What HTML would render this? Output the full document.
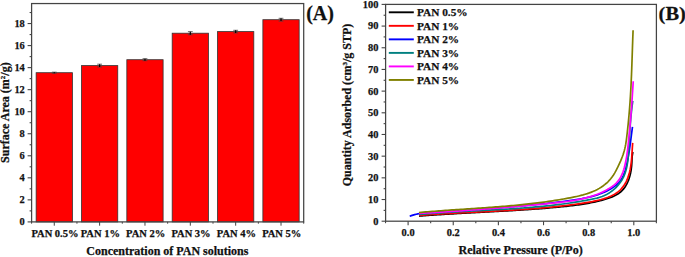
<!DOCTYPE html>
<html><head><meta charset="utf-8"><style>
html,body{margin:0;padding:0;background:#fff;}
body{width:685px;height:257px;overflow:hidden;font-family:"Liberation Serif",serif;}
svg{display:block;}
text{font-family:"Liberation Serif",serif;font-weight:bold;fill:#111;stroke:#111;stroke-width:0.25px;}
</style></head><body>
<svg width="685" height="257" viewBox="0 0 685 257">
<rect x="36.14" y="72.70" width="36.28" height="149.20" fill="#ff0000" stroke="#333" stroke-width="0.8"/>
<rect x="81.48" y="65.60" width="36.28" height="156.30" fill="#ff0000" stroke="#333" stroke-width="0.8"/>
<rect x="126.83" y="59.70" width="36.28" height="162.20" fill="#ff0000" stroke="#333" stroke-width="0.8"/>
<rect x="172.18" y="33.20" width="36.28" height="188.70" fill="#ff0000" stroke="#333" stroke-width="0.8"/>
<rect x="217.53" y="31.60" width="36.28" height="190.30" fill="#ff0000" stroke="#333" stroke-width="0.8"/>
<rect x="262.88" y="19.70" width="36.28" height="202.20" fill="#ff0000" stroke="#333" stroke-width="0.8"/>
<path d="M51.88 72.20H56.67M51.88 73.20H56.67" stroke="#444" stroke-width="0.8" fill="none"/>
<path d="M54.27 72.20V73.20" stroke="#000" stroke-width="1.2" fill="none"/>
<path d="M97.22 64.20H102.03M97.22 67.00H102.03" stroke="#444" stroke-width="0.8" fill="none"/>
<path d="M99.62 64.20V67.00" stroke="#000" stroke-width="1.2" fill="none"/>
<path d="M142.57 58.70H147.38M142.57 60.70H147.38" stroke="#444" stroke-width="0.8" fill="none"/>
<path d="M144.97 58.70V60.70" stroke="#000" stroke-width="1.2" fill="none"/>
<path d="M187.92 31.65H192.72M187.92 34.75H192.72" stroke="#444" stroke-width="0.8" fill="none"/>
<path d="M190.32 31.65V34.75" stroke="#000" stroke-width="1.2" fill="none"/>
<path d="M233.27 30.30H238.07M233.27 32.90H238.07" stroke="#444" stroke-width="0.8" fill="none"/>
<path d="M235.67 30.30V32.90" stroke="#000" stroke-width="1.2" fill="none"/>
<path d="M278.62 18.30H283.42M278.62 21.10H283.42" stroke="#444" stroke-width="0.8" fill="none"/>
<path d="M281.02 18.30V21.10" stroke="#000" stroke-width="1.2" fill="none"/>
<rect x="31.6" y="3.55" width="272.09999999999997" height="218.35" fill="none" stroke="#444" stroke-width="1.25"/>
<line x1="27.60" y1="221.90" x2="31.60" y2="221.90" stroke="#444" stroke-width="1.1"/>
<text x="24.8" y="225.30" text-anchor="end" font-size="10.4" style="font-family:'Liberation Serif',serif;font-weight:bold">0</text>
<line x1="29.60" y1="210.88" x2="31.60" y2="210.88" stroke="#444" stroke-width="1.1"/>
<line x1="27.60" y1="199.86" x2="31.60" y2="199.86" stroke="#444" stroke-width="1.1"/>
<text x="24.8" y="203.26" text-anchor="end" font-size="10.4" style="font-family:'Liberation Serif',serif;font-weight:bold">2</text>
<line x1="29.60" y1="188.84" x2="31.60" y2="188.84" stroke="#444" stroke-width="1.1"/>
<line x1="27.60" y1="177.82" x2="31.60" y2="177.82" stroke="#444" stroke-width="1.1"/>
<text x="24.8" y="181.22" text-anchor="end" font-size="10.4" style="font-family:'Liberation Serif',serif;font-weight:bold">4</text>
<line x1="29.60" y1="166.80" x2="31.60" y2="166.80" stroke="#444" stroke-width="1.1"/>
<line x1="27.60" y1="155.78" x2="31.60" y2="155.78" stroke="#444" stroke-width="1.1"/>
<text x="24.8" y="159.18" text-anchor="end" font-size="10.4" style="font-family:'Liberation Serif',serif;font-weight:bold">6</text>
<line x1="29.60" y1="144.76" x2="31.60" y2="144.76" stroke="#444" stroke-width="1.1"/>
<line x1="27.60" y1="133.74" x2="31.60" y2="133.74" stroke="#444" stroke-width="1.1"/>
<text x="24.8" y="137.14" text-anchor="end" font-size="10.4" style="font-family:'Liberation Serif',serif;font-weight:bold">8</text>
<line x1="29.60" y1="122.72" x2="31.60" y2="122.72" stroke="#444" stroke-width="1.1"/>
<line x1="27.60" y1="111.70" x2="31.60" y2="111.70" stroke="#444" stroke-width="1.1"/>
<text x="24.8" y="115.10" text-anchor="end" font-size="10.4" style="font-family:'Liberation Serif',serif;font-weight:bold">10</text>
<line x1="29.60" y1="100.68" x2="31.60" y2="100.68" stroke="#444" stroke-width="1.1"/>
<line x1="27.60" y1="89.66" x2="31.60" y2="89.66" stroke="#444" stroke-width="1.1"/>
<text x="24.8" y="93.06" text-anchor="end" font-size="10.4" style="font-family:'Liberation Serif',serif;font-weight:bold">12</text>
<line x1="29.60" y1="78.64" x2="31.60" y2="78.64" stroke="#444" stroke-width="1.1"/>
<line x1="27.60" y1="67.62" x2="31.60" y2="67.62" stroke="#444" stroke-width="1.1"/>
<text x="24.8" y="71.02" text-anchor="end" font-size="10.4" style="font-family:'Liberation Serif',serif;font-weight:bold">14</text>
<line x1="29.60" y1="56.60" x2="31.60" y2="56.60" stroke="#444" stroke-width="1.1"/>
<line x1="27.60" y1="45.58" x2="31.60" y2="45.58" stroke="#444" stroke-width="1.1"/>
<text x="24.8" y="48.98" text-anchor="end" font-size="10.4" style="font-family:'Liberation Serif',serif;font-weight:bold">16</text>
<line x1="29.60" y1="34.56" x2="31.60" y2="34.56" stroke="#444" stroke-width="1.1"/>
<line x1="27.60" y1="23.54" x2="31.60" y2="23.54" stroke="#444" stroke-width="1.1"/>
<text x="24.8" y="26.94" text-anchor="end" font-size="10.4" style="font-family:'Liberation Serif',serif;font-weight:bold">18</text>
<line x1="29.60" y1="12.52" x2="31.60" y2="12.52" stroke="#444" stroke-width="1.1"/>
<line x1="54.27" y1="221.90" x2="54.27" y2="225.70" stroke="#444" stroke-width="1.0"/>
<line x1="99.62" y1="221.90" x2="99.62" y2="225.70" stroke="#444" stroke-width="1.0"/>
<line x1="144.97" y1="221.90" x2="144.97" y2="225.70" stroke="#444" stroke-width="1.0"/>
<line x1="190.32" y1="221.90" x2="190.32" y2="225.70" stroke="#444" stroke-width="1.0"/>
<line x1="235.67" y1="221.90" x2="235.67" y2="225.70" stroke="#444" stroke-width="1.0"/>
<line x1="281.02" y1="221.90" x2="281.02" y2="225.70" stroke="#444" stroke-width="1.0"/>
<line x1="31.60" y1="221.90" x2="31.60" y2="223.70" stroke="#444" stroke-width="1"/>
<line x1="76.95" y1="221.90" x2="76.95" y2="223.70" stroke="#444" stroke-width="1"/>
<line x1="122.30" y1="221.90" x2="122.30" y2="223.70" stroke="#444" stroke-width="1"/>
<line x1="167.65" y1="221.90" x2="167.65" y2="223.70" stroke="#444" stroke-width="1"/>
<line x1="213.00" y1="221.90" x2="213.00" y2="223.70" stroke="#444" stroke-width="1"/>
<line x1="258.35" y1="221.90" x2="258.35" y2="223.70" stroke="#444" stroke-width="1"/>
<line x1="303.70" y1="221.90" x2="303.70" y2="223.70" stroke="#444" stroke-width="1"/>
<text x="54.98" y="237.1" text-anchor="middle" font-size="10.5" style="font-family:'Liberation Serif',serif;font-weight:bold">PAN 0.5%</text>
<text x="100.33" y="237.1" text-anchor="middle" font-size="10.5" style="font-family:'Liberation Serif',serif;font-weight:bold">PAN 1%</text>
<text x="145.67" y="237.1" text-anchor="middle" font-size="10.5" style="font-family:'Liberation Serif',serif;font-weight:bold">PAN 2%</text>
<text x="191.02" y="237.1" text-anchor="middle" font-size="10.5" style="font-family:'Liberation Serif',serif;font-weight:bold">PAN 3%</text>
<text x="236.37" y="237.1" text-anchor="middle" font-size="10.5" style="font-family:'Liberation Serif',serif;font-weight:bold">PAN 4%</text>
<text x="281.72" y="237.1" text-anchor="middle" font-size="10.5" style="font-family:'Liberation Serif',serif;font-weight:bold">PAN 5%</text>
<text x="167.4" y="255.4" text-anchor="middle" font-size="12" style="font-family:'Liberation Serif',serif;font-weight:bold">Concentration of PAN solutions</text>
<text transform="translate(9.4,112.6) rotate(-90)" text-anchor="middle" font-size="12" style="font-family:'Liberation Serif',serif;font-weight:bold">Surface Area (m<tspan font-size="7" dy="-4">2</tspan><tspan dy="4">/g)</tspan></text>
<text x="306.2" y="19.7" font-size="20" style="font-family:'Liberation Serif',serif;font-weight:bold">(A)</text>
<rect x="385.6" y="4.4" width="270.79999999999995" height="216.79999999999998" fill="none" stroke="#444" stroke-width="1.25"/>
<line x1="381.60" y1="221.20" x2="385.60" y2="221.20" stroke="#444" stroke-width="1.1"/>
<text x="378.4" y="224.60" text-anchor="end" font-size="10.4" style="font-family:'Liberation Serif',serif;font-weight:bold">0</text>
<line x1="383.60" y1="210.36" x2="385.60" y2="210.36" stroke="#444" stroke-width="1.1"/>
<line x1="381.60" y1="199.52" x2="385.60" y2="199.52" stroke="#444" stroke-width="1.1"/>
<text x="378.4" y="202.92" text-anchor="end" font-size="10.4" style="font-family:'Liberation Serif',serif;font-weight:bold">10</text>
<line x1="383.60" y1="188.68" x2="385.60" y2="188.68" stroke="#444" stroke-width="1.1"/>
<line x1="381.60" y1="177.84" x2="385.60" y2="177.84" stroke="#444" stroke-width="1.1"/>
<text x="378.4" y="181.24" text-anchor="end" font-size="10.4" style="font-family:'Liberation Serif',serif;font-weight:bold">20</text>
<line x1="383.60" y1="167.00" x2="385.60" y2="167.00" stroke="#444" stroke-width="1.1"/>
<line x1="381.60" y1="156.16" x2="385.60" y2="156.16" stroke="#444" stroke-width="1.1"/>
<text x="378.4" y="159.56" text-anchor="end" font-size="10.4" style="font-family:'Liberation Serif',serif;font-weight:bold">30</text>
<line x1="383.60" y1="145.32" x2="385.60" y2="145.32" stroke="#444" stroke-width="1.1"/>
<line x1="381.60" y1="134.48" x2="385.60" y2="134.48" stroke="#444" stroke-width="1.1"/>
<text x="378.4" y="137.88" text-anchor="end" font-size="10.4" style="font-family:'Liberation Serif',serif;font-weight:bold">40</text>
<line x1="383.60" y1="123.64" x2="385.60" y2="123.64" stroke="#444" stroke-width="1.1"/>
<line x1="381.60" y1="112.80" x2="385.60" y2="112.80" stroke="#444" stroke-width="1.1"/>
<text x="378.4" y="116.20" text-anchor="end" font-size="10.4" style="font-family:'Liberation Serif',serif;font-weight:bold">50</text>
<line x1="383.60" y1="101.96" x2="385.60" y2="101.96" stroke="#444" stroke-width="1.1"/>
<line x1="381.60" y1="91.12" x2="385.60" y2="91.12" stroke="#444" stroke-width="1.1"/>
<text x="378.4" y="94.52" text-anchor="end" font-size="10.4" style="font-family:'Liberation Serif',serif;font-weight:bold">60</text>
<line x1="383.60" y1="80.28" x2="385.60" y2="80.28" stroke="#444" stroke-width="1.1"/>
<line x1="381.60" y1="69.44" x2="385.60" y2="69.44" stroke="#444" stroke-width="1.1"/>
<text x="378.4" y="72.84" text-anchor="end" font-size="10.4" style="font-family:'Liberation Serif',serif;font-weight:bold">70</text>
<line x1="383.60" y1="58.60" x2="385.60" y2="58.60" stroke="#444" stroke-width="1.1"/>
<line x1="381.60" y1="47.76" x2="385.60" y2="47.76" stroke="#444" stroke-width="1.1"/>
<text x="378.4" y="51.16" text-anchor="end" font-size="10.4" style="font-family:'Liberation Serif',serif;font-weight:bold">80</text>
<line x1="383.60" y1="36.92" x2="385.60" y2="36.92" stroke="#444" stroke-width="1.1"/>
<line x1="381.60" y1="26.08" x2="385.60" y2="26.08" stroke="#444" stroke-width="1.1"/>
<text x="378.4" y="29.48" text-anchor="end" font-size="10.4" style="font-family:'Liberation Serif',serif;font-weight:bold">90</text>
<line x1="383.60" y1="15.24" x2="385.60" y2="15.24" stroke="#444" stroke-width="1.1"/>
<line x1="381.60" y1="4.40" x2="385.60" y2="4.40" stroke="#444" stroke-width="1.1"/>
<text x="378.4" y="7.80" text-anchor="end" font-size="10.4" style="font-family:'Liberation Serif',serif;font-weight:bold">100</text>
<line x1="385.53" y1="221.20" x2="385.53" y2="223.20" stroke="#444" stroke-width="1.1"/>
<line x1="408.10" y1="221.20" x2="408.10" y2="225.20" stroke="#444" stroke-width="1.1"/>
<text x="408.10" y="235.8" text-anchor="middle" font-size="10.4" style="font-family:'Liberation Serif',serif;font-weight:bold">0.0</text>
<line x1="430.67" y1="221.20" x2="430.67" y2="223.20" stroke="#444" stroke-width="1.1"/>
<line x1="453.24" y1="221.20" x2="453.24" y2="225.20" stroke="#444" stroke-width="1.1"/>
<text x="453.24" y="235.8" text-anchor="middle" font-size="10.4" style="font-family:'Liberation Serif',serif;font-weight:bold">0.2</text>
<line x1="475.81" y1="221.20" x2="475.81" y2="223.20" stroke="#444" stroke-width="1.1"/>
<line x1="498.38" y1="221.20" x2="498.38" y2="225.20" stroke="#444" stroke-width="1.1"/>
<text x="498.38" y="235.8" text-anchor="middle" font-size="10.4" style="font-family:'Liberation Serif',serif;font-weight:bold">0.4</text>
<line x1="520.95" y1="221.20" x2="520.95" y2="223.20" stroke="#444" stroke-width="1.1"/>
<line x1="543.52" y1="221.20" x2="543.52" y2="225.20" stroke="#444" stroke-width="1.1"/>
<text x="543.52" y="235.8" text-anchor="middle" font-size="10.4" style="font-family:'Liberation Serif',serif;font-weight:bold">0.6</text>
<line x1="566.09" y1="221.20" x2="566.09" y2="223.20" stroke="#444" stroke-width="1.1"/>
<line x1="588.66" y1="221.20" x2="588.66" y2="225.20" stroke="#444" stroke-width="1.1"/>
<text x="588.66" y="235.8" text-anchor="middle" font-size="10.4" style="font-family:'Liberation Serif',serif;font-weight:bold">0.8</text>
<line x1="611.23" y1="221.20" x2="611.23" y2="223.20" stroke="#444" stroke-width="1.1"/>
<line x1="633.80" y1="221.20" x2="633.80" y2="225.20" stroke="#444" stroke-width="1.1"/>
<text x="633.80" y="235.8" text-anchor="middle" font-size="10.4" style="font-family:'Liberation Serif',serif;font-weight:bold">1.0</text>
<line x1="656.37" y1="221.20" x2="656.37" y2="223.20" stroke="#444" stroke-width="1.1"/>
<text x="520.6" y="254.3" text-anchor="middle" font-size="12" style="font-family:'Liberation Serif',serif;font-weight:bold">Relative Pressure (P/Po)</text>
<text transform="translate(351,105) rotate(-90)" text-anchor="middle" font-size="12" style="font-family:'Liberation Serif',serif;font-weight:bold">Quantity Adsorbed (cm<tspan font-size="7" dy="-4">3</tspan><tspan dy="4">/g STP)</tspan></text>
<text transform="translate(658.6,20.3) scale(1.05,1)" font-size="19.5" style="font-family:'Liberation Serif',serif;font-weight:bold">(B)</text>
<path d="M419.03 216.07 L420.57 215.95 L422.11 215.83 L423.66 215.71 L425.20 215.60 L426.75 215.48 L428.29 215.37 L429.84 215.26 L431.38 215.15 L432.93 215.04 L434.48 214.94 L436.02 214.83 L437.57 214.73 L439.12 214.63 L440.67 214.53 L442.22 214.43 L443.77 214.34 L445.32 214.24 L446.87 214.15 L448.42 214.05 L449.97 213.96 L451.52 213.87 L453.08 213.78 L454.63 213.69 L456.18 213.60 L457.74 213.51 L459.29 213.43 L460.84 213.34 L462.40 213.25 L463.95 213.17 L465.50 213.08 L467.06 213.00 L468.61 212.92 L470.17 212.83 L471.72 212.75 L473.28 212.67 L474.83 212.59 L476.39 212.50 L477.94 212.42 L479.50 212.34 L481.05 212.26 L482.61 212.18 L484.16 212.10 L485.72 212.01 L487.27 211.93 L488.83 211.85 L490.39 211.77 L491.94 211.68 L493.50 211.60 L495.05 211.52 L496.61 211.43 L498.16 211.35 L499.72 211.26 L501.27 211.18 L502.83 211.09 L504.38 211.00 L505.94 210.91 L507.49 210.82 L509.04 210.73 L510.60 210.64 L512.15 210.55 L513.70 210.46 L515.26 210.36 L516.81 210.27 L518.36 210.17 L519.91 210.07 L521.46 209.97 L523.02 209.87 L524.57 209.77 L526.12 209.67 L527.67 209.56 L529.22 209.45 L530.77 209.35 L532.32 209.24 L533.86 209.12 L535.41 209.01 L536.96 208.90 L538.51 208.78 L540.05 208.66 L541.60 208.54 L543.15 208.41 L544.69 208.29 L546.23 208.16 L547.78 208.03 L549.32 207.90 L550.86 207.76 L552.41 207.63 L553.95 207.49 L555.49 207.34 L557.03 207.20 L558.57 207.05 L560.11 206.90 L561.64 206.75 L563.18 206.59 L564.72 206.44 L566.25 206.28 L567.79 206.11 L569.32 205.94 L570.86 205.77 L572.39 205.59 L573.92 205.41 L575.45 205.22 L576.99 205.02 L578.52 204.81 L580.05 204.60 L581.58 204.37 L583.11 204.14 L584.64 203.89 L586.18 203.64 L587.71 203.37 L589.24 203.09 L590.77 202.79 L592.30 202.49 L593.84 202.17 L595.37 201.83 L596.91 201.48 L598.44 201.11 L599.98 200.72 L601.51 200.32 L603.05 199.89 L604.59 199.45 L606.12 198.99 L607.66 198.51 L609.18 197.99 L610.69 197.45 L612.18 196.86 L613.63 196.24 L615.05 195.56 L616.42 194.83 L617.74 194.05 L619.01 193.20 L620.21 192.28 L621.34 191.29 L622.40 190.24 L623.40 189.12 L624.33 187.94 L625.20 186.70 L626.00 185.41 L626.74 184.07 L627.43 182.70 L628.06 181.28 L628.63 179.82 L629.16 178.34 L629.62 176.82 L630.04 175.29 L630.42 173.74 L630.74 172.17 L631.02 170.59 L631.26 169.00 L631.45 167.42 L631.61 165.83 L631.73 164.25 L631.82 162.68 L631.89 161.12 L631.97 159.57 L632.06 158.03 L632.18 156.51 L632.36 155.00 L632.60 153.50 L632.92 152.02" fill="none" stroke="#000000" stroke-width="1.7" stroke-linejoin="round" stroke-linecap="butt"/>
<path d="M419.00 215.41 L420.60 215.29 L422.19 215.18 L423.79 215.06 L425.38 214.95 L426.98 214.84 L428.57 214.73 L430.17 214.62 L431.76 214.52 L433.36 214.41 L434.95 214.31 L436.55 214.21 L438.14 214.11 L439.74 214.01 L441.34 213.92 L442.93 213.82 L444.53 213.73 L446.13 213.64 L447.72 213.54 L449.32 213.45 L450.92 213.37 L452.51 213.28 L454.11 213.19 L455.71 213.10 L457.30 213.02 L458.90 212.93 L460.50 212.85 L462.10 212.76 L463.69 212.68 L465.29 212.60 L466.89 212.52 L468.48 212.43 L470.08 212.35 L471.68 212.27 L473.28 212.19 L474.87 212.11 L476.47 212.03 L478.07 211.95 L479.67 211.87 L481.26 211.78 L482.86 211.70 L484.46 211.62 L486.06 211.54 L487.65 211.46 L489.25 211.37 L490.85 211.29 L492.45 211.21 L494.04 211.12 L495.64 211.04 L497.24 210.95 L498.84 210.86 L500.43 210.77 L502.03 210.69 L503.63 210.60 L505.22 210.51 L506.82 210.41 L508.42 210.32 L510.01 210.22 L511.61 210.13 L513.21 210.03 L514.80 209.93 L516.40 209.83 L517.99 209.73 L519.59 209.62 L521.18 209.52 L522.78 209.41 L524.37 209.30 L525.97 209.19 L527.56 209.07 L529.16 208.96 L530.75 208.84 L532.35 208.72 L533.94 208.59 L535.53 208.47 L537.13 208.34 L538.72 208.21 L540.31 208.07 L541.90 207.93 L543.50 207.79 L545.09 207.65 L546.68 207.50 L548.27 207.35 L549.86 207.20 L551.45 207.05 L553.04 206.89 L554.63 206.72 L556.22 206.56 L557.81 206.39 L559.40 206.22 L560.98 206.04 L562.57 205.86 L564.16 205.67 L565.74 205.48 L567.33 205.29 L568.92 205.09 L570.50 204.89 L572.09 204.69 L573.67 204.48 L575.25 204.26 L576.83 204.04 L578.41 203.81 L579.99 203.58 L581.57 203.35 L583.15 203.11 L584.73 202.86 L586.30 202.61 L587.88 202.35 L589.45 202.08 L591.02 201.80 L592.59 201.50 L594.15 201.19 L595.72 200.86 L597.28 200.50 L598.84 200.13 L600.39 199.72 L601.95 199.29 L603.50 198.83 L605.04 198.33 L606.59 197.80 L608.12 197.23 L609.64 196.62 L611.13 195.96 L612.59 195.25 L614.02 194.49 L615.41 193.67 L616.75 192.79 L618.04 191.85 L619.26 190.84 L620.42 189.76 L621.50 188.62 L622.52 187.40 L623.47 186.13 L624.36 184.81 L625.18 183.44 L625.94 182.04 L626.64 180.60 L627.28 179.14 L627.86 177.65 L628.39 176.15 L628.87 174.62 L629.31 173.08 L629.70 171.52 L630.05 169.95 L630.36 168.37 L630.63 166.78 L630.88 165.18 L631.10 163.57 L631.29 161.96 L631.46 160.34 L631.60 158.72 L631.74 157.11 L631.85 155.49 L631.96 153.88 L632.06 152.28 L632.16 150.68 L632.26 149.09 L632.35 147.51 L632.46 145.94 L632.57 144.39 L632.69 142.86" fill="none" stroke="#ff0000" stroke-width="1.7" stroke-linejoin="round" stroke-linecap="butt"/>
<path d="M409.72 216.22 L411.34 215.63 L412.97 215.11 L414.61 214.64 L416.26 214.22 L417.92 213.85 L419.58 213.52 L421.26 213.23 L422.94 212.99 L424.63 212.77 L426.32 212.59 L428.02 212.44 L429.72 212.31 L431.43 212.20 L433.14 212.10 L434.85 212.02 L436.57 211.95 L438.28 211.89 L440.00 211.83 L441.72 211.76 L443.43 211.70 L445.15 211.63 L446.86 211.55 L448.58 211.47 L450.29 211.39 L452.00 211.30 L453.72 211.21 L455.43 211.11 L457.14 211.01 L458.85 210.91 L460.56 210.81 L462.27 210.70 L463.97 210.59 L465.68 210.47 L467.39 210.35 L469.10 210.23 L470.80 210.11 L472.51 209.99 L474.21 209.86 L475.92 209.73 L477.62 209.60 L479.33 209.46 L481.03 209.33 L482.74 209.19 L484.44 209.06 L486.14 208.92 L487.85 208.78 L489.55 208.64 L491.25 208.49 L492.95 208.35 L494.66 208.21 L496.36 208.07 L498.06 207.92 L499.76 207.78 L501.46 207.63 L503.16 207.49 L504.87 207.35 L506.57 207.20 L508.27 207.06 L509.97 206.91 L511.67 206.77 L513.37 206.62 L515.07 206.47 L516.77 206.32 L518.47 206.17 L520.17 206.02 L521.87 205.87 L523.57 205.72 L525.27 205.56 L526.97 205.41 L528.68 205.25 L530.38 205.09 L532.08 204.93 L533.78 204.76 L535.48 204.59 L537.18 204.43 L538.88 204.25 L540.58 204.08 L542.28 203.90 L543.98 203.72 L545.68 203.54 L547.38 203.36 L549.08 203.17 L550.78 202.98 L552.48 202.78 L554.18 202.58 L555.88 202.38 L557.58 202.17 L559.28 201.96 L560.98 201.75 L562.68 201.53 L564.38 201.31 L566.08 201.08 L567.78 200.85 L569.48 200.62 L571.18 200.38 L572.89 200.13 L574.59 199.88 L576.28 199.62 L577.98 199.34 L579.67 199.06 L581.36 198.76 L583.05 198.44 L584.74 198.11 L586.41 197.76 L588.09 197.38 L589.75 196.99 L591.42 196.57 L593.07 196.12 L594.72 195.65 L596.36 195.14 L597.99 194.61 L599.61 194.04 L601.22 193.44 L602.82 192.81 L604.41 192.13 L605.99 191.42 L607.55 190.66 L609.09 189.86 L610.60 189.01 L612.07 188.11 L613.50 187.16 L614.87 186.15 L616.19 185.08 L617.44 183.96 L618.61 182.76 L619.70 181.50 L620.71 180.17 L621.62 178.77 L622.44 177.30 L623.18 175.77 L623.85 174.20 L624.46 172.58 L625.00 170.93 L625.50 169.25 L625.96 167.56 L626.38 165.86 L626.78 164.15 L627.15 162.45 L627.51 160.75 L627.84 159.05 L628.16 157.36 L628.47 155.67 L628.76 153.97 L629.03 152.28 L629.30 150.59 L629.55 148.90 L629.80 147.21 L630.03 145.53 L630.26 143.84 L630.49 142.15 L630.71 140.46 L630.93 138.77 L631.14 137.08 L631.36 135.39 L631.58 133.70 L631.80 132.01 L632.02 130.31 L632.25 128.61 L632.48 126.91" fill="none" stroke="#0000ff" stroke-width="1.7" stroke-linejoin="round" stroke-linecap="butt"/>
<path d="M419.02 214.53 L420.84 214.37 L422.65 214.21 L424.46 214.06 L426.28 213.91 L428.09 213.76 L429.91 213.62 L431.73 213.48 L433.54 213.34 L435.36 213.21 L437.18 213.08 L439.00 212.95 L440.82 212.83 L442.64 212.71 L444.46 212.59 L446.28 212.47 L448.10 212.36 L449.92 212.25 L451.74 212.14 L453.57 212.03 L455.39 211.92 L457.21 211.82 L459.04 211.72 L460.86 211.61 L462.68 211.51 L464.51 211.41 L466.33 211.32 L468.16 211.22 L469.98 211.12 L471.81 211.02 L473.63 210.93 L475.46 210.83 L477.28 210.74 L479.11 210.64 L480.94 210.55 L482.76 210.45 L484.59 210.35 L486.41 210.26 L488.24 210.16 L490.06 210.06 L491.89 209.96 L493.71 209.86 L495.54 209.76 L497.37 209.66 L499.19 209.55 L501.02 209.45 L502.84 209.34 L504.67 209.23 L506.49 209.12 L508.31 209.01 L510.14 208.89 L511.96 208.77 L513.78 208.65 L515.61 208.53 L517.43 208.41 L519.25 208.28 L521.07 208.15 L522.89 208.01 L524.72 207.87 L526.54 207.73 L528.36 207.59 L530.18 207.44 L531.99 207.29 L533.81 207.13 L535.63 206.97 L537.45 206.81 L539.26 206.64 L541.08 206.46 L542.90 206.29 L544.71 206.10 L546.52 205.92 L548.34 205.72 L550.15 205.53 L551.96 205.32 L553.77 205.12 L555.58 204.90 L557.39 204.68 L559.20 204.46 L561.01 204.23 L562.81 203.99 L564.62 203.75 L566.43 203.50 L568.23 203.24 L570.03 202.98 L571.83 202.71 L573.64 202.43 L575.44 202.15 L577.23 201.86 L579.03 201.56 L580.83 201.25 L582.62 200.94 L584.42 200.62 L586.21 200.29 L588.00 199.96 L589.80 199.61 L591.59 199.26 L593.37 198.89 L595.15 198.49 L596.92 198.06 L598.67 197.58 L600.42 197.04 L602.14 196.43 L603.84 195.75 L605.51 194.99 L607.16 194.13 L608.78 193.18 L610.36 192.16 L611.89 191.05 L613.37 189.88 L614.80 188.63 L616.17 187.33 L617.47 185.96 L618.70 184.54 L619.85 183.07 L620.92 181.56 L621.90 180.01 L622.79 178.42 L623.60 176.80 L624.32 175.14 L624.96 173.47 L625.53 171.76 L626.04 170.03 L626.48 168.28 L626.86 166.51 L627.20 164.73 L627.49 162.93 L627.74 161.11 L627.95 159.29 L628.14 157.46 L628.30 155.62 L628.44 153.78 L628.56 151.94 L628.68 150.10 L628.80 148.27 L628.91 146.43 L629.02 144.60 L629.13 142.77 L629.23 140.95 L629.34 139.13 L629.45 137.31 L629.56 135.49 L629.67 133.67 L629.79 131.86 L629.91 130.04 L630.03 128.23 L630.16 126.42 L630.29 124.61 L630.43 122.79 L630.58 120.98 L630.73 119.17 L630.89 117.36 L631.06 115.55 L631.24 113.73 L631.42 111.92 L631.62 110.10 L631.83 108.28 L632.05 106.46 L632.29 104.64 L632.54 102.82 L632.80 100.99" fill="none" stroke="#008080" stroke-width="1.7" stroke-linejoin="round" stroke-linecap="butt"/>
<path d="M418.94 213.48 L420.88 213.37 L422.81 213.25 L424.75 213.14 L426.68 213.02 L428.62 212.91 L430.55 212.79 L432.48 212.67 L434.41 212.55 L436.34 212.43 L438.27 212.31 L440.20 212.19 L442.12 212.07 L444.05 211.94 L445.97 211.82 L447.89 211.69 L449.81 211.56 L451.74 211.44 L453.66 211.31 L455.58 211.18 L457.49 211.05 L459.41 210.92 L461.33 210.79 L463.25 210.65 L465.16 210.52 L467.08 210.38 L469.00 210.25 L470.91 210.11 L472.83 209.97 L474.74 209.83 L476.65 209.69 L478.57 209.55 L480.48 209.40 L482.40 209.26 L484.31 209.11 L486.22 208.97 L488.13 208.82 L490.05 208.67 L491.96 208.52 L493.87 208.37 L495.79 208.22 L497.70 208.06 L499.61 207.91 L501.53 207.75 L503.44 207.60 L505.35 207.44 L507.27 207.28 L509.18 207.12 L511.10 206.96 L513.01 206.79 L514.93 206.63 L516.84 206.46 L518.76 206.29 L520.68 206.12 L522.59 205.95 L524.51 205.78 L526.43 205.61 L528.35 205.44 L530.27 205.26 L532.19 205.08 L534.11 204.91 L536.04 204.73 L537.96 204.55 L539.88 204.36 L541.81 204.18 L543.74 203.99 L545.66 203.81 L547.59 203.62 L549.52 203.43 L551.45 203.24 L553.38 203.05 L555.32 202.85 L557.25 202.64 L559.18 202.43 L561.11 202.21 L563.03 201.98 L564.96 201.74 L566.88 201.49 L568.80 201.22 L570.71 200.93 L572.62 200.63 L574.52 200.31 L576.42 199.97 L578.31 199.61 L580.20 199.22 L582.08 198.81 L583.95 198.37 L585.81 197.90 L587.66 197.41 L589.50 196.88 L591.33 196.32 L593.16 195.73 L594.97 195.10 L596.76 194.43 L598.55 193.73 L600.32 192.99 L602.08 192.20 L603.83 191.37 L605.56 190.50 L607.27 189.58 L608.96 188.61 L610.60 187.58 L612.18 186.49 L613.71 185.33 L615.15 184.09 L616.52 182.78 L617.78 181.38 L618.94 179.89 L619.98 178.31 L620.91 176.65 L621.75 174.92 L622.50 173.13 L623.17 171.29 L623.77 169.42 L624.31 167.52 L624.80 165.60 L625.25 163.69 L625.66 161.77 L626.04 159.86 L626.39 157.94 L626.71 156.02 L627.00 154.11 L627.28 152.19 L627.53 150.28 L627.76 148.36 L627.98 146.45 L628.19 144.53 L628.39 142.62 L628.59 140.70 L628.78 138.79 L628.96 136.87 L629.15 134.96 L629.33 133.04 L629.51 131.13 L629.68 129.21 L629.85 127.29 L630.02 125.38 L630.19 123.46 L630.36 121.55 L630.52 119.63 L630.68 117.71 L630.84 115.79 L630.99 113.87 L631.14 111.96 L631.29 110.04 L631.44 108.12 L631.58 106.20 L631.72 104.28 L631.86 102.36 L632.00 100.44 L632.13 98.51 L632.26 96.59 L632.39 94.67 L632.52 92.75 L632.64 90.82 L632.76 88.90 L632.88 86.97 L633.00 85.05 L633.11 83.12 L633.22 81.20" fill="none" stroke="#ff00ff" stroke-width="1.7" stroke-linejoin="round" stroke-linecap="butt"/>
<path d="M418.98 212.50 L421.18 212.30 L423.38 212.11 L425.57 211.93 L427.77 211.75 L429.97 211.57 L432.17 211.39 L434.37 211.23 L436.57 211.06 L438.77 210.90 L440.96 210.74 L443.16 210.58 L445.36 210.42 L447.56 210.27 L449.75 210.12 L451.95 209.97 L454.15 209.82 L456.34 209.67 L458.54 209.53 L460.74 209.38 L462.93 209.24 L465.13 209.10 L467.32 208.95 L469.52 208.81 L471.71 208.66 L473.91 208.52 L476.10 208.37 L478.29 208.22 L480.49 208.07 L482.68 207.92 L484.88 207.77 L487.07 207.62 L489.26 207.46 L491.45 207.30 L493.64 207.14 L495.84 206.97 L498.03 206.80 L500.22 206.63 L502.41 206.45 L504.60 206.27 L506.79 206.09 L508.98 205.90 L511.17 205.71 L513.36 205.51 L515.55 205.30 L517.73 205.09 L519.92 204.88 L522.11 204.66 L524.30 204.43 L526.48 204.20 L528.67 203.96 L530.85 203.71 L533.04 203.45 L535.23 203.19 L537.41 202.92 L539.59 202.64 L541.78 202.36 L543.96 202.07 L546.15 201.76 L548.33 201.45 L550.51 201.13 L552.69 200.80 L554.87 200.46 L557.05 200.11 L559.23 199.75 L561.41 199.38 L563.59 199.00 L565.77 198.61 L567.95 198.21 L570.13 197.80 L572.31 197.37 L574.48 196.93 L576.65 196.47 L578.81 195.98 L580.95 195.45 L583.08 194.89 L585.20 194.28 L587.29 193.63 L589.36 192.92 L591.40 192.15 L593.41 191.32 L595.39 190.41 L597.34 189.44 L599.25 188.38 L601.11 187.23 L602.93 186.00 L604.69 184.68 L606.38 183.27 L607.99 181.78 L609.51 180.19 L610.92 178.52 L612.24 176.77 L613.48 174.95 L614.63 173.07 L615.73 171.14 L616.76 169.18 L617.76 167.18 L618.71 165.17 L619.64 163.15 L620.54 161.12 L621.39 159.08 L622.20 157.03 L622.96 154.96 L623.65 152.88 L624.27 150.78 L624.81 148.66 L625.28 146.53 L625.69 144.38 L626.04 142.22 L626.35 140.04 L626.63 137.86 L626.89 135.68 L627.14 133.49 L627.39 131.31 L627.63 129.12 L627.86 126.93 L628.09 124.73 L628.31 122.54 L628.52 120.35 L628.73 118.15 L628.93 115.96 L629.12 113.76 L629.31 111.57 L629.49 109.37 L629.66 107.17 L629.83 104.98 L629.99 102.78 L630.14 100.58 L630.28 98.38 L630.42 96.19 L630.55 93.99 L630.68 91.79 L630.80 89.59 L630.92 87.40 L631.03 85.20 L631.13 83.00 L631.23 80.80 L631.33 78.60 L631.43 76.40 L631.52 74.20 L631.60 72.00 L631.69 69.80 L631.77 67.61 L631.85 65.41 L631.93 63.21 L632.01 61.01 L632.08 58.81 L632.16 56.61 L632.23 54.41 L632.30 52.21 L632.38 50.01 L632.45 47.81 L632.52 45.60 L632.60 43.40 L632.68 41.20 L632.75 39.00 L632.83 36.80 L632.92 34.60 L633.00 32.40 L633.09 30.20" fill="none" stroke="#808000" stroke-width="1.7" stroke-linejoin="round" stroke-linecap="butt"/>
<line x1="388.8" y1="12.30" x2="413.8" y2="12.30" stroke="#000000" stroke-width="1.9"/>
<text x="417" y="16.15" font-size="11.3" style="font-family:'Liberation Serif',serif;font-weight:bold">PAN 0.5%</text>
<line x1="388.8" y1="25.83" x2="413.8" y2="25.83" stroke="#ff0000" stroke-width="1.9"/>
<text x="417" y="29.68" font-size="11.3" style="font-family:'Liberation Serif',serif;font-weight:bold">PAN 1%</text>
<line x1="388.8" y1="39.36" x2="413.8" y2="39.36" stroke="#0000ff" stroke-width="1.9"/>
<text x="417" y="43.21" font-size="11.3" style="font-family:'Liberation Serif',serif;font-weight:bold">PAN 2%</text>
<line x1="388.8" y1="52.89" x2="413.8" y2="52.89" stroke="#008080" stroke-width="1.9"/>
<text x="417" y="56.74" font-size="11.3" style="font-family:'Liberation Serif',serif;font-weight:bold">PAN 3%</text>
<line x1="388.8" y1="66.42" x2="413.8" y2="66.42" stroke="#ff00ff" stroke-width="1.9"/>
<text x="417" y="70.27" font-size="11.3" style="font-family:'Liberation Serif',serif;font-weight:bold">PAN 4%</text>
<line x1="388.8" y1="79.95" x2="413.8" y2="79.95" stroke="#808000" stroke-width="1.9"/>
<text x="417" y="83.80" font-size="11.3" style="font-family:'Liberation Serif',serif;font-weight:bold">PAN 5%</text>
</svg>
</body></html>
